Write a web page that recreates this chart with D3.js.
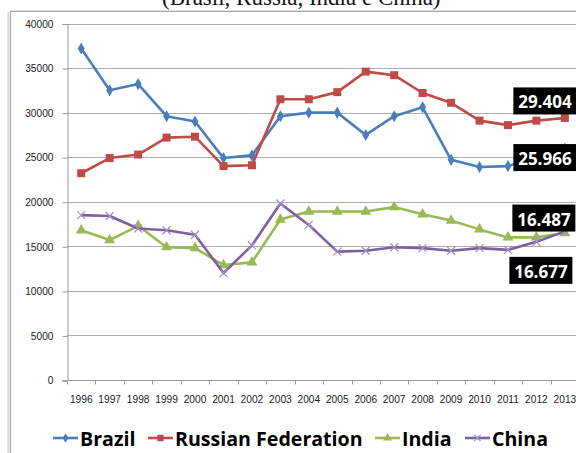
<!DOCTYPE html>
<html>
<head>
<meta charset="utf-8">
<script src="https://cdn.jsdelivr.net/npm/d3@7"></script>
<style>
  html, body { margin: 0; padding: 0; background: #fff; }
  svg { display: block; }
</style>
</head>
<body>
<svg id="chart" width="576" height="453"></svg>
<script>
// Years on the category axis
const years = ["1996","1997","1998","1999","2000","2001","2002","2003","2004",
               "2005","2006","2007","2008","2009","2010","2011","2012","2013"];

// Series values
const brazil = [37200, 32500, 33200, 29600, 29000, 24900, 25200, 29600, 30000,
                30000, 27500, 29600, 30600, 24700, 23900, 24000, 25000, 25966];
const russia = [23200, 24900, 25300, 27200, 27300, 24000, 24100, 31500, 31500,
                32300, 34600, 34200, 32200, 31100, 29100, 28600, 29100, 29404];
const india  = [16800, 15700, 17300, 14900, 14800, 12900, 13200, 18000, 18900,
                18900, 18900, 19400, 18600, 17900, 16900, 16000, 16000, 16487];
const china  = [18500, 18400, 17000, 16800, 16300, 12000, 15100, 19800, 17400,
                14400, 14500, 14900, 14800, 14500, 14800, 14600, 15500, 16677];

const yTicks = [0, 5000, 10000, 15000, 20000, 25000, 30000, 35000, 40000];
const seriesNames = ["Brazil", "Russian Federation", "India", "China"];

const series = [
  { name: seriesNames[0], values: brazil, color: "#4a7ebb", marker: "diamond", labelDx: -20, labelDy: 9 },
  { name: seriesNames[1], values: russia, color: "#be4b48", marker: "square",  labelDx: -20, labelDy: -17 },
  { name: seriesNames[2], values: india,  color: "#98b954", marker: "triangle",labelDx: -21, labelDy: -15 },
  { name: seriesNames[3], values: china,  color: "#7d60a0", marker: "cross",   labelDx: -24, labelDy: 39 }
];

const svg = d3.select("#chart");
const W = 576, H = 453;

// Title (runs off the top of the page)
svg.append("text")
  .attr("x", 162).attr("y", 5)
  .attr("font-family", "'Liberation Serif', 'Times New Roman', serif")
  .attr("font-size", 23)
  .attr("fill", "#111")
  .text("(Brasil, Russia, India e China)");

// Chart frame with a soft shadow on the left
svg.append("line").attr("x1", 8.5).attr("x2", 8.5).attr("y1", 12).attr("y2", H)
  .attr("stroke", "#d8d8d8").attr("stroke-width", 2);
svg.append("line").attr("x1", 10).attr("x2", W).attr("y1", 10.5).attr("y2", 10.5)
  .attr("stroke", "#e2e2e2").attr("stroke-width", 1);
svg.append("rect").attr("x", 10.5).attr("y", 11.5).attr("width", W).attr("height", H)
  .attr("fill", "#fff").attr("stroke", "#a8a8a8").attr("stroke-width", 1);

// Scales
const x = d3.scaleBand().domain(years).range([67, 67 + 18 * 28.45]);
const y = d3.scaleLinear().domain([0, 40000]).range([380, 23.5]);
const cx = d => x(d) + x.bandwidth() / 2;

// Horizontal gridlines
svg.append("g")
  .selectAll("line")
  .data(yTicks.filter(t => t > 0))
  .join("line")
  .attr("x1", 67).attr("x2", W)
  .attr("y1", d => Math.round(y(d)) + 0.5).attr("y2", d => Math.round(y(d)) + 0.5)
  .attr("stroke", "#adadad").attr("stroke-width", 1.2);

// Y axis
const yAxis = svg.append("g")
  .attr("transform", "translate(67.5,0.5)")
  .call(d3.axisLeft(y).tickValues(yTicks).tickFormat(d3.format("d")).tickSize(5).tickPadding(9));
yAxis.select(".domain").attr("stroke", "#9a9a9a");
yAxis.selectAll(".tick line").attr("stroke", "#9a9a9a");
yAxis.selectAll("text")
  .attr("font-family", "'Liberation Sans', Arial, sans-serif")
  .attr("font-size", 10.2).attr("fill", "#222");

// X axis
const xAxis = svg.append("g")
  .attr("transform", "translate(0," + (Math.round(y(0)) + 0.5) + ")")
  .call(d3.axisBottom(x).tickSize(0).tickPadding(15));
xAxis.select(".domain").attr("stroke", "#9a9a9a").attr("d", "M62,0H" + W);
xAxis.selectAll("text")
  .attr("font-family", "'Liberation Sans', Arial, sans-serif")
  .attr("font-size", 10.2).attr("fill", "#222");
// Tick marks at category boundaries
xAxis.append("g").selectAll("line")
  .data(years)
  .join("line")
  .attr("x1", d => Math.round(x(d)) + 0.5).attr("x2", d => Math.round(x(d)) + 0.5)
  .attr("y1", 0).attr("y2", 4)
  .attr("stroke", "#9a9a9a");

// Marker drawing
function drawMarker(g, type, color, scale) {
  const s = scale || 1;
  if (type === "cross") {
    const r = 4 * s;
    g.append("path")
      .attr("d", `M${-r},${-r}L${r},${r}M${-r},${r}L${r},${-r}`)
      .attr("stroke", "#a58fc4").attr("stroke-width", 1.2).attr("fill", "none");
    return;
  }
  const sym = { diamond: d3.symbolDiamond, square: d3.symbolSquare, triangle: d3.symbolTriangle }[type];
  const size = { diamond: 42, square: 64, triangle: 52 }[type] * s * s;
  g.append("path")
    .attr("d", d3.symbol().type(sym).size(size)())
    .attr("fill", color);
}

const line = d3.line().x((d, i) => cx(years[i])).y(d => y(d));

// Lines, then markers, series by series
series.forEach(s => {
  const g = svg.append("g");
  g.append("path")
    .datum(s.values)
    .attr("d", line)
    .attr("fill", "none")
    .attr("stroke", s.color)
    .attr("stroke-width", 2.6)
    .attr("stroke-linejoin", "round");
  s.values.forEach((v, i) => {
    const m = g.append("g").attr("transform", `translate(${cx(years[i])},${y(v)})`);
    drawMarker(m, s.marker, s.color, 1);
  });
});

// End-of-series value labels (black boxes)
const fmt = v => d3.format(",")(v).replace(",", ".");
series.forEach(s => {
  const last = s.values.length - 1;
  const v = s.values[last];
  const px = cx(years[last]) + s.labelDx;
  const py = y(v) + s.labelDy;
  const g = svg.append("g").attr("transform", `translate(${px},${py})`);
  g.append("text")
    .attr("text-anchor", "middle")
    .attr("dominant-baseline", "central")
    .attr("y", 1)
    .attr("font-family", "'Open Sans', 'Liberation Sans', sans-serif")
    .attr("font-weight", "bold")
    .attr("font-size", 17)
    .attr("fill", "#fff")
    .text(fmt(v));
  const w = 63, h = 27;
  g.insert("rect", "text")
    .attr("x", -w / 2).attr("y", -h / 2)
    .attr("width", w).attr("height", h)
    .attr("fill", "#000");
});

// Legend
const legendX = [53, 148, 375, 465];
const legendY = 438;
series.forEach((s, i) => {
  const g = svg.append("g").attr("transform", `translate(${legendX[i]},${legendY})`);
  g.append("line").attr("x1", 0).attr("x2", 25).attr("y1", 0).attr("y2", 0)
    .attr("stroke", s.color).attr("stroke-width", 2.6);
  const m = g.append("g").attr("transform", "translate(12.5,0)");
  drawMarker(m, s.marker, s.color, 0.8);
  g.append("text")
    .attr("x", 27).attr("y", 0)
    .attr("dominant-baseline", "central")
    .attr("font-family", "'Open Sans', 'Liberation Sans', sans-serif")
    .attr("font-weight", "bold")
    .attr("font-size", 19.6)
    .attr("fill", "#000")
    .text(s.name);
});
</script>
</body>
</html>
